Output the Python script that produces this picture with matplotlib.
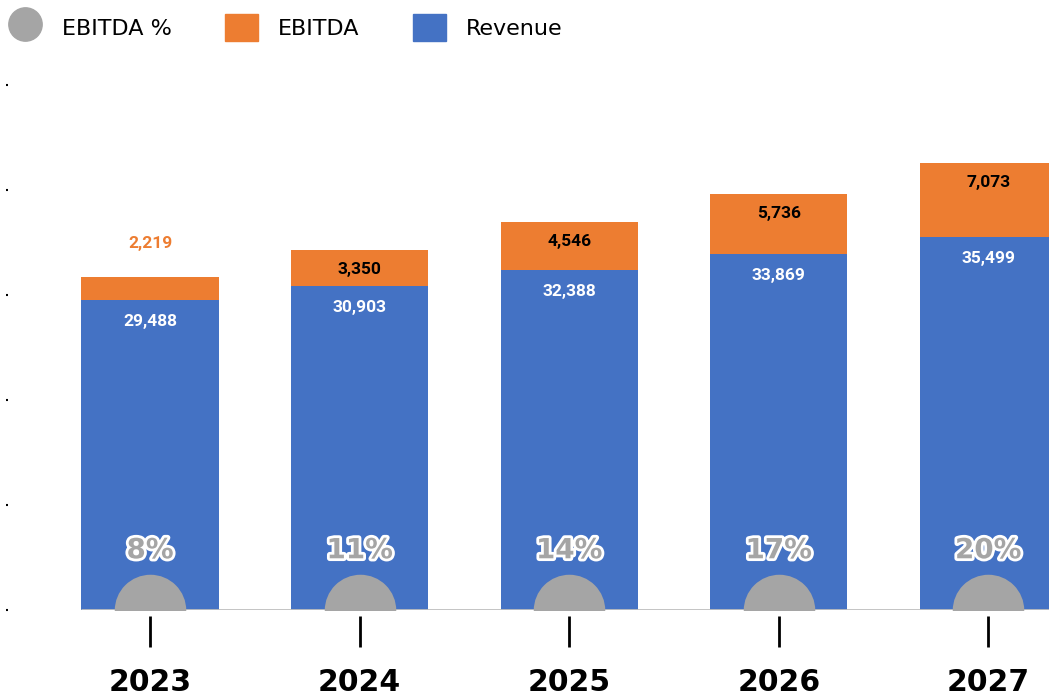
import matplotlib.pyplot as plt
import matplotlib.patheffects as pe
from matplotlib.lines import Line2D
from matplotlib.patches import Patch

# ==========================================================
# DATA
# ==========================================================

years = ["2023", "2024", "2025", "2026", "2027"]
revenue = [29488, 30903, 32388, 33869, 35499]
ebitda = [2219, 3350, 4546, 5736, 7073]
ebitda_pct = [8, 11, 14, 17, 20]

BLUE = "#4472C4"
ORANGE = "#ED7D31"
GRAY = "#A5A5A5"

# ==========================================================
# FIGURE
# ==========================================================

fig = plt.figure(figsize=(10.49, 7.0), dpi=100)
ax = fig.add_axes([8 / 1049, 90 / 700, 1 - 8 / 1049, 525 / 700])

x = list(range(len(years)))
width = 0.655

ax.bar(x, revenue, width=width, color=BLUE, zorder=2)
ax.bar(x, ebitda, width=width, bottom=revenue, color=ORANGE, zorder=2)

# baseline
ax.plot([-width / 2, 4.6], [0, 0], color="#BFBFBF", lw=2, zorder=3,
        solid_capstyle="butt")

# EBITDA % semicircles at the baseline
ax.scatter(x, [0] * len(x), s=2650, color=GRAY, zorder=4, clip_on=True,
           linewidths=0)

# ==========================================================
# LABELS
# ==========================================================

for i in x:
    top_rev = revenue[i]
    top_all = revenue[i] + ebitda[i]

    ax.annotate(f"{revenue[i]:,}", (i, top_rev), xytext=(0, -15.5),
                textcoords="offset points", ha="center", va="center",
                color="white", fontsize=12.5, fontweight="bold",
                family="Roboto", zorder=5)

    if ebitda[i] < 3000:
        ax.annotate(f"{ebitda[i]:,}", (i, top_all), xytext=(0, 24),
                    textcoords="offset points", ha="center", va="center",
                    color=ORANGE, fontsize=12.5, fontweight="bold",
                    family="Roboto", zorder=5)
    else:
        ax.annotate(f"{ebitda[i]:,}", (i, top_all), xytext=(0, -14),
                    textcoords="offset points", ha="center", va="center",
                    color="black", fontsize=12.5, fontweight="bold",
                    family="Roboto", zorder=5)

    ax.annotate(f"{ebitda_pct[i]}%", (i, 0), xytext=(0, 43),
                textcoords="offset points", ha="center", va="center",
                color=GRAY, fontsize=20, fontweight="bold", zorder=5,
                path_effects=[pe.withStroke(linewidth=4, foreground="white")])

# ==========================================================
# AXES
# ==========================================================

ax.set_xlim(-0.678, 4.29)
ax.set_ylim(0, 50000)

for side in ["top", "right", "left", "bottom"]:
    ax.spines[side].set_visible(False)

# moving the spine resets the ticks, so do it first
ax.spines["bottom"].set_position(("outward", 4))

ax.set_yticks([0, 10000, 20000, 30000, 40000, 50000])
ax.set_xticks(x)
ax.set_xticklabels(years, fontsize=21.5, fontweight="bold")

ax.tick_params(axis="x", length=22, width=2, color="black", pad=16)
ax.tick_params(axis="y", length=1.5, width=1.5, color="black",
               labelleft=False, pad=0)

# ==========================================================
# LEGEND
# ==========================================================

handles = [
    Line2D([], [], marker="o", linestyle="none", markersize=24,
           markerfacecolor=GRAY, markeredgecolor=GRAY),
    Patch(facecolor=ORANGE, edgecolor=ORANGE),
    Patch(facecolor=BLUE, edgecolor=BLUE),
]

fig.legend(handles, ["EBITDA %", "EBITDA", "Revenue"], loc="upper left",
           bbox_to_anchor=(-0.0076, 1.004), ncol=3, frameon=False,
           fontsize=16, handlelength=1.5, handleheight=1.5,
           handletextpad=0.9, columnspacing=2.38, borderaxespad=0.35)

plt.savefig("out.png", dpi=100)
